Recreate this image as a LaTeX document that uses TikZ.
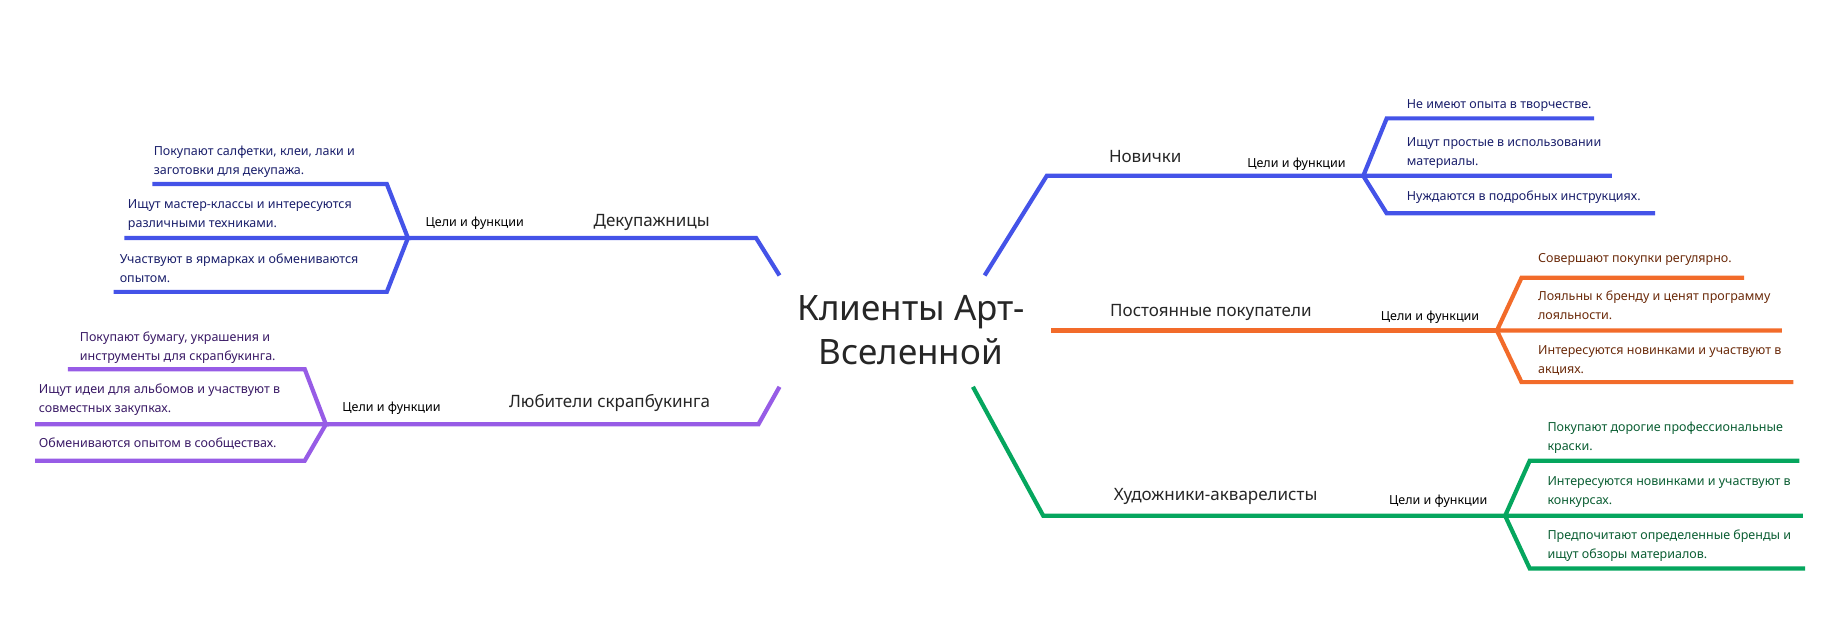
\documentclass[tikz,border=0pt]{standalone}
\usepackage{fontspec}
\setmainfont{Noto Sans}
\usetikzlibrary{positioning}

\definecolor{cblue}{HTML}{4453E8}
\definecolor{tblue}{HTML}{1A1F6B}
\definecolor{corange}{HTML}{F26B2A}
\definecolor{torange}{HTML}{6B2A0A}
\definecolor{cgreen}{HTML}{05A65E}
\definecolor{tgreen}{HTML}{0B5E33}
\definecolor{cpurple}{HTML}{975CE6}
\definecolor{tpurple}{HTML}{3A1A66}

\tikzset{
  branch/.style={line width=4.2pt, line join=miter},
  leaf/.style={anchor=north west, inner sep=0pt, align=left, font=\fontsize{12.5}{19}\selectfont\bfseries},
  goal/.style={inner sep=0pt, anchor=base, font=\fontsize{12.5}{15}\selectfont},
  topic/.style={inner sep=0pt, anchor=base, font=\fontsize{17}{20}\selectfont\bfseries, text=black!85}
}

\begin{document}
\begin{tikzpicture}[x=1.172pt, y=-1.172pt]
  \useasboundingbox (0,0) rectangle (1568,537);

  \node[align=center, font=\fontsize{35}{44}\selectfont\bfseries, text=black!85] (title) at (777,282) {Клиенты Арт-\\Вселенной};

  % Декупажницы
  \coordinate (d0) at (665,235);
  \coordinate (dF) at (348,203);
  \draw[branch, cblue] (d0) -- (645,203) -- (dF);
  \draw[branch, cblue] (130,157) -- (330,157) -- (dF) -- (106,203);
  \draw[branch, cblue] (dF) -- (330,249) -- (97,249);
  \node[topic] (dname) at (556,193) {Декупажницы};
  \node[goal] (dgoal) at (405,193) {Цели и функции};
  \node[leaf, text=tblue] (d1) at (131,124) {Покупают салфетки, клеи, лаки и\\заготовки для декупажа.};
  \node[leaf, text=tblue] (d2) at (109,170) {Ищут мастер-классы и интересуются\\различными техниками.};
  \node[leaf, text=tblue] (d3) at (102,216) {Участвуют в ярмарках и обмениваются\\опытом.};

  % Любители скрапбукинга
  \coordinate (s0) at (665,330);
  \coordinate (sF) at (278,362);
  \draw[branch, cpurple] (s0) -- (647,362) -- (sF);
  \draw[branch, cpurple] (58,315) -- (260,315) -- (sF) -- (30,362);
  \draw[branch, cpurple] (sF) -- (260,393) -- (30,393);
  \node[topic] (sname) at (520,348) {Любители скрапбукинга};
  \node[goal] (sgoal) at (334,351) {Цели и функции};
  \node[leaf, text=tpurple] (s1) at (68,283) {Покупают бумагу, украшения и\\инструменты для скрапбукинга.};
  \node[leaf, text=tpurple] (s2) at (33,327) {Ищут идеи для альбомов и участвуют в\\совместных закупках.};
  \node[leaf, text=tpurple] (s3) at (33,373) {Обмениваются опытом в сообществах.};

  % Новички
  \coordinate (n0) at (840,235);
  \coordinate (nF) at (1163,150);
  \draw[branch, cblue] (n0) -- (893,150) -- (nF);
  \draw[branch, cblue] (1360,101) -- (1183,101) -- (nF) -- (1375,150);
  \draw[branch, cblue] (nF) -- (1183,182) -- (1412,182);
  \node[topic] (nname) at (977,139) {Новички};
  \node[goal] (ngoal) at (1106,143) {Цели и функции};
  \node[leaf, text=tblue] (n1) at (1200,85) {Не имеют опыта в творчестве.};
  \node[leaf, text=tblue] (n2) at (1200,117) {Ищут простые в использовании\\материалы.};
  \node[leaf, text=tblue] (n3) at (1200,163) {Нуждаются в подробных инструкциях.};

  % Постоянные покупатели
  \coordinate (p0) at (897,282);
  \coordinate (pF) at (1277,282);
  \draw[branch, corange] (p0) -- (pF);
  \draw[branch, corange] (1488,237) -- (1298,237) -- (pF) -- (1520,282);
  \draw[branch, corange] (pF) -- (1298,326) -- (1530,326);
  \node[topic] (pname) at (1033,270) {Постоянные покупатели};
  \node[goal] (pgoal) at (1220,273) {Цели и функции};
  \node[leaf, text=torange] (p1) at (1312,216) {Совершают покупки регулярно.};
  \node[leaf, text=torange] (p2) at (1312,248) {Лояльны к бренду и ценят программу\\лояльности.};
  \node[leaf, text=torange] (p3) at (1312,295) {Интересуются новинками и участвуют в\\акциях.};

  % Художники-акварелисты
  \coordinate (h0) at (830,330);
  \coordinate (hF) at (1284,440);
  \draw[branch, cgreen] (h0) -- (890,440) -- (hF);
  \draw[branch, cgreen] (1535,393) -- (1305,393) -- (hF) -- (1538,440);
  \draw[branch, cgreen] (hF) -- (1305,485) -- (1540,485);
  \node[topic] (hname) at (1037,427) {Художники-акварелисты};
  \node[goal] (hgoal) at (1227,430) {Цели и функции};
  \node[leaf, text=tgreen] (h1) at (1320,360) {Покупают дорогие профессиональные\\краски.};
  \node[leaf, text=tgreen] (h2) at (1320,406) {Интересуются новинками и участвуют в\\конкурсах.};
  \node[leaf, text=tgreen] (h3) at (1320,452) {Предпочитают определенные бренды и\\ищут обзоры материалов.};
\end{tikzpicture}
\end{document}
